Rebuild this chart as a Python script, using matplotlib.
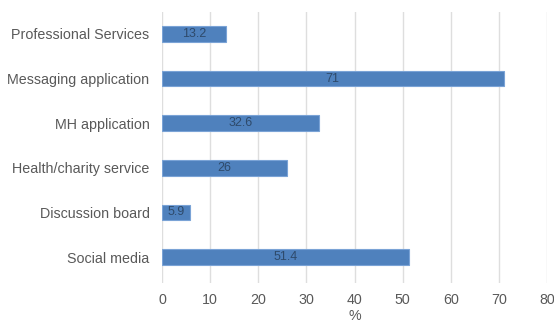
import matplotlib.pyplot as plt

# Sources d'aide utilisées (%), de bas en haut
categories = ["Social media", "Discussion board", "Health/charity service",
              "MH application", "Messaging application", "Professional Services"]
values = [51.4, 5.9, 26, 32.6, 71, 13.2]
value_labels = ["51.4", "5.9", "26", "32.6", "71", "13.2"]
xticks = [0, 10, 20, 30, 40, 50, 60, 70, 80]

plt.rcParams["font.family"] = ["Liberation Sans", "DejaVu Sans"]

fig = plt.figure(figsize=(5.54, 3.25), dpi=100)
ax = fig.add_axes([162 / 554, 42 / 325, 385 / 554, 271 / 325])

pos = list(range(len(categories)))
bars = ax.barh(pos, values, height=0.35, color="#4f81bd",
               edgecolor="#7aa3d6", linewidth=0.8, zorder=3)

for b, txt in zip(bars, value_labels):
    ax.text(b.get_x() + b.get_width() / 2, b.get_y() + b.get_height() / 2, txt,
            ha="center", va="center", fontsize=9, color="#2e4a6b", zorder=4)

ax.set_xlim(0, 80)
ax.set_ylim(-0.58, 5.49)
ax.set_xticks(xticks)
ax.set_yticks(pos)
ax.set_yticklabels(categories)
ax.xaxis.grid(True, color="#dedede", linewidth=1.0, zorder=0)
ax.tick_params(axis="both", length=0, labelsize=10.3, colors="#595959")
ax.tick_params(axis="x", pad=7)
ax.tick_params(axis="y", pad=9)
for s in ax.spines.values():
    s.set_visible(False)
ax.set_xlabel("%", fontsize=10.3, color="#595959", labelpad=2)

fig.savefig("out.png", dpi=100)
